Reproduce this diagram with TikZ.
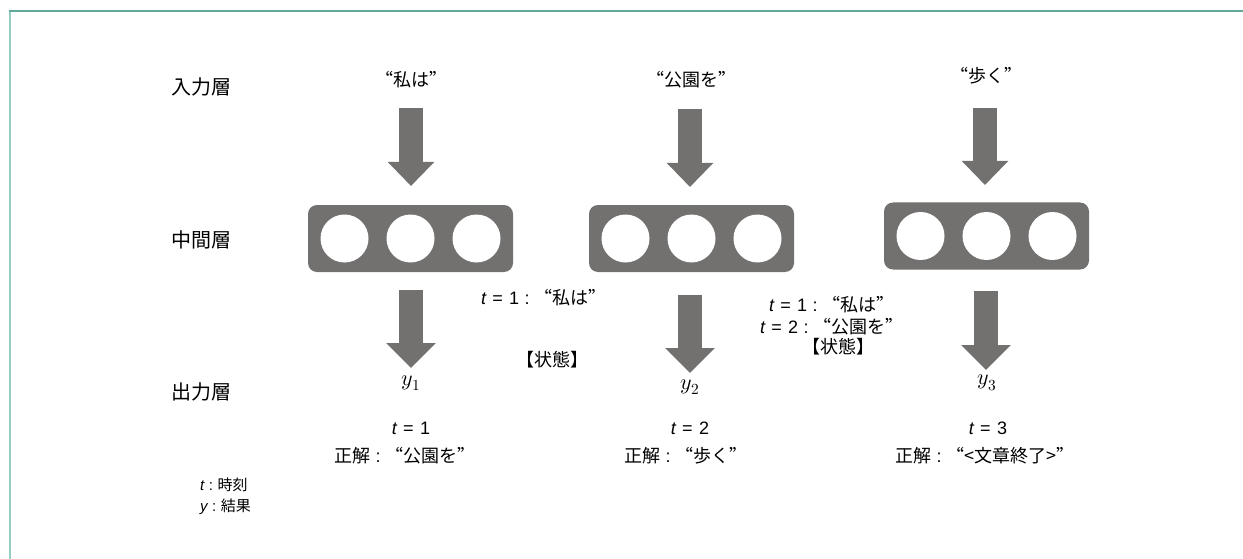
\documentclass[tikz,border=0pt]{standalone}
\usepackage{fontspec}
\usepackage{unicode-math}
\setmainfont{Noto Sans CJK JP}
\newfontfamily\latfont{Liberation Sans}
\newfontfamily\fwfont[RawFeature=+fwid]{Noto Sans CJK JP}
\usetikzlibrary{arrows.meta}
\definecolor{arrowgray}{HTML}{737070}
\definecolor{frametop}{HTML}{5FA89A}
\definecolor{frameleft}{HTML}{93CDC3}
\newcommand\tv{{\latfont\itshape t}}
\newcommand\eqn[1]{{\latfont\hspace{0.35em}=\hspace{0.35em}#1}}
\newcommand\cln{{\latfont\hspace{0.3em}:\hspace{0.3em}}}
\newcommand\ql{{\fwfont “}}
\newcommand\qr{{\fwfont ”}}
\begin{document}
\begin{tikzpicture}[x=1pt,y=-1pt,
  lbl/.style={font=\fontsize{18}{22}\selectfont, inner sep=0pt, align=center, text=black},
  layer/.style={font=\fontsize{20}{24}\selectfont, inner sep=0pt, text=black},
  ylbl/.style={font=\fontsize{22}{24}\selectfont, inner sep=0pt, text=black},
  small/.style={font=\fontsize{15}{22}\selectfont, inner sep=0pt, anchor=west, text=black},
  layerbox/.style={fill=arrowgray, rounded corners=9pt, minimum width=205pt, minimum height=67pt, inner sep=0pt},
  unit/.style={circle, fill=white, minimum size=48pt, inner sep=0pt},
  blockin/.style={draw=arrowgray, line width=24pt, -{Triangle[width=45pt,length=24pt]}},
  blockout/.style={draw=arrowgray, line width=24pt, -{Triangle[width=48pt,length=25pt]}}]
\useasboundingbox (0,0) rectangle (1243,559);
\fill[white] (0,0) rectangle (1243,559);
\draw[frameleft, line width=2pt] (10,559) -- (10,11);
\draw[frametop, line width=2pt] (9,11) -- (1243,11);

% layer labels
\node[layer] (Lin) at (201,87) {入力層};
\node[layer] (Lmid) at (201,240) {中間層};
\node[layer] (Lout) at (201,392) {出力層};

% inputs
\node[lbl] (in1) at (411,80) {\ql 私は\qr};
\node[lbl] (in2) at (691,80) {\ql 公園を\qr};
\node[lbl] (in3) at (986,76) {\ql 歩く\qr};

% hidden layers
\foreach \i/\cx/\cy in {1/410.5/238.5, 2/691.5/238.5, 3/986.5/236}{
  \node[layerbox] (box\i) at (\cx,\cy) {};
  \node[unit] (u\i a) at ([xshift=-66pt]box\i.center) {};
  \node[unit] (u\i b) at (box\i.center) {};
  \node[unit] (u\i c) at ([xshift=66pt]box\i.center) {};
}

% arrow coordinates
\coordinate (a1s) at (411,108); \coordinate (a1e) at (411,186);
\coordinate (a2s) at (690,109); \coordinate (a2e) at (690,187);
\coordinate (a3s) at (985,108); \coordinate (a3e) at (985,185);
\coordinate (o1s) at (411,290); \coordinate (o1e) at (411,368);
\coordinate (o2s) at (690,295); \coordinate (o2e) at (690,373);
\coordinate (o3s) at (986,291); \coordinate (o3e) at (986,370);
\draw[blockin] (a1s) -- (a1e);
\draw[blockin] (a2s) -- (a2e);
\draw[blockin] (a3s) -- (a3e);
\draw[blockout] (o1s) -- (o1e);
\draw[blockout] (o2s) -- (o2e);
\draw[blockout] (o3s) -- (o3e);

% outputs
\node[ylbl] (y1) at (411,383) {$y_1$};
\node[ylbl] (y2) at (690,387) {$y_2$};
\node[ylbl] (y3) at (987,383) {$y_3$};

\node[lbl] (t1) at (411,428) {\tv\eqn{1}};
\node[lbl] (c1) at (405,456) {正解\cln\ql 公園を\qr};
\node[lbl] (t2) at (690,428) {\tv\eqn{2}};
\node[lbl] (c2) at (686,456) {正解\cln\ql 歩く\qr};
\node[lbl] (t3) at (988,428) {\tv\eqn{3}};
\node[lbl] (c3) at (985,456) {正解\cln\ql<文章終了>\qr};

% states
\node[lbl] (s1) at (544,298) {\tv\eqn{1}\cln\ql 私は\qr};
\node[lbl] (st1) at (552,360) {【状態】};
\node[lbl] (s2) at (832,316) {\tv\eqn{1}\cln\ql 私は\qr\\\tv\eqn{2}\cln\ql 公園を\qr};
\node[lbl] (st2) at (838,347) {【状態】};

% legend
\node[small] (lg1) at (200,485) {\tv\cln 時刻};
\node[small] (lg2) at (200,507) {{\latfont\itshape y}\cln 結果};
\end{tikzpicture}
\end{document}
